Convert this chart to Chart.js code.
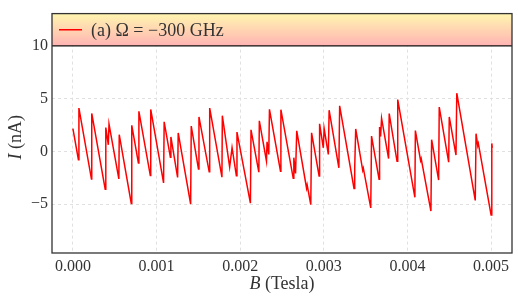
<!DOCTYPE html>
<html>
<head>
<meta charset="utf-8">
<script src="https://cdn.jsdelivr.net/npm/chart.js@4.4.0/dist/chart.umd.min.js"></script>
<style>
  html, body { margin: 0; padding: 0; background: #fff; }
</style>
</head>
<body>
<canvas id="chart" width="518" height="299"></canvas>
<script>
// B field (Tesla) and current (nA)
const bField = [
  0.0000000, 0.0000659, 0.0000719, 0.0002218, 0.0002254, 0.0003861, 0.0003933, 0.0004233,
  0.0004317, 0.0005492, 0.0005540, 0.0006978, 0.0007038, 0.0007830, 0.0007890, 0.0009257,
  0.0009305, 0.0010839, 0.0010911, 0.0011655, 0.0011715, 0.0012518, 0.0012590, 0.0014077,
  0.0014149, 0.0015012, 0.0015072, 0.0016295, 0.0016355, 0.0017818, 0.0017866, 0.0018741,
  0.0019029, 0.0019544, 0.0019616, 0.0021223, 0.0021295, 0.0022230, 0.0022290, 0.0023141,
  0.0023213, 0.0023417, 0.0023501, 0.0024820, 0.0024868, 0.0026343, 0.0026415, 0.0026619,
  0.0026763, 0.0027938, 0.0028010, 0.0028441, 0.0028537, 0.0029436, 0.0029496, 0.0029940,
  0.0030036, 0.0030540, 0.0030635, 0.0031799, 0.0031894, 0.0033609, 0.0033693, 0.0033813,
  0.0034652, 0.0034724, 0.0035612, 0.0035707, 0.0036607, 0.0036667, 0.0036787, 0.0036906,
  0.0037746, 0.0037818, 0.0038753, 0.0038837, 0.0040887, 0.0040947, 0.0041571, 0.0041643,
  0.0042806, 0.0042890, 0.0043729, 0.0043801, 0.0044928, 0.0045000, 0.0045803, 0.0045899,
  0.0048106, 0.0048201, 0.0048405, 0.0048477, 0.0050000, 0.0050084, 0.0050144
];
const current = [
  2.15, -0.80, 4.10, -2.63, 3.60, -3.60, 2.26, 0.62,
  2.58, -2.62, 1.58, -4.95, 2.47, -1.10, 3.80, -2.30,
  3.97, -3.00, 2.80, -0.57, 1.36, -2.48, 1.74, -5.00,
  2.40, -1.67, 3.26, -1.95, 4.10, -2.45, 3.38, -1.50,
  0.35, -2.33, 1.83, -4.92, 2.04, -1.98, 2.90, -0.91,
  0.91, -0.30, 3.98, -1.88, 3.95, -2.56, -0.60, -2.10,
  1.95, -3.50, -3.20, -5.05, 1.76, -2.34, 2.61, 0.33,
  2.17, -0.30, 3.90, -1.57, 4.32, -3.52, -1.60, 2.12,
  -1.80, -1.60, -5.37, 1.45, -2.64, 2.30, 1.40, 3.13,
  -0.69, 3.58, -0.95, 4.91, -4.36, 1.97, -0.88, -0.70,
  -5.67, 1.10, -2.73, 4.20, -1.03, 3.26, -0.36, 5.52,
  -4.66, 1.67, 0.53, 0.75, -6.04, 0.75, 0.32
];
const xTicks = [0, 0.001, 0.002, 0.003, 0.004, 0.005];
const yTicks = [-5, 0, 5, 10];
const seriesLabel = '(a) \u03A9 = \u2212300 GHz';

const serif = "'Liberation Serif', 'DejaVu Serif', serif";
const inkColor = '#333333';

// frame, legend box and axis titles
const decorations = {
  id: 'decorations',
  afterDraw(chart) {
    const { ctx, chartArea: a, scales } = chart;
    const boxBottom = scales.y.getPixelForValue(10);
    ctx.save();

    // legend box with yellow -> pink gradient
    const grad = ctx.createLinearGradient(0, a.top, 0, boxBottom);
    grad.addColorStop(0, '#fff6b0');
    grad.addColorStop(1, '#ffb3b3');
    ctx.fillStyle = grad;
    ctx.fillRect(a.left, a.top, a.right - a.left, boxBottom - a.top);
    ctx.strokeStyle = '#111';
    ctx.lineWidth = 1.3;
    ctx.beginPath();
    ctx.moveTo(a.left, boxBottom);
    ctx.lineTo(a.right, boxBottom);
    ctx.stroke();

    const midY = (a.top + boxBottom) / 2;
    ctx.strokeStyle = '#ff0000';
    ctx.lineWidth = 1.5;
    ctx.beginPath();
    ctx.moveTo(a.left + 7, midY);
    ctx.lineTo(a.left + 30, midY);
    ctx.stroke();
    ctx.fillStyle = inkColor;
    ctx.font = '18px ' + serif;
    ctx.textBaseline = 'middle';
    ctx.textAlign = 'left';
    ctx.fillText(chart.data.datasets[0].label, a.left + 39, midY + 1);

    // frame
    ctx.strokeStyle = inkColor;
    ctx.lineWidth = 1.3;
    ctx.strokeRect(a.left, a.top, a.right - a.left, a.bottom - a.top);

    // x title: italic B + (Tesla)
    ctx.textBaseline = 'middle';
    const xPart1 = 'B', xPart2 = ' (Tesla)';
    ctx.font = 'italic 18px ' + serif;
    const w1 = ctx.measureText(xPart1).width;
    ctx.font = '18px ' + serif;
    const w2 = ctx.measureText(xPart2).width;
    let x0 = (a.left + a.right) / 2 - (w1 + w2) / 2;
    ctx.font = 'italic 18px ' + serif;
    ctx.fillText(xPart1, x0, 284);
    ctx.font = '18px ' + serif;
    ctx.fillText(xPart2, x0 + w1, 284);

    // y title: italic I + (nA), rotated
    ctx.translate(16, (a.top + a.bottom) / 2 + 4);
    ctx.rotate(-Math.PI / 2);
    const yPart1 = 'I', yPart2 = ' (nA)';
    ctx.font = 'italic 18px ' + serif;
    const v1 = ctx.measureText(yPart1).width;
    ctx.font = '18px ' + serif;
    const v2 = ctx.measureText(yPart2).width;
    const y0 = -(v1 + v2) / 2;
    ctx.font = 'italic 18px ' + serif;
    ctx.fillText(yPart1, y0, 0);
    ctx.font = '18px ' + serif;
    ctx.fillText(yPart2, y0 + v1, 0);
    ctx.restore();
  }
};

const ctx = document.getElementById('chart').getContext('2d');
new Chart(ctx, {
  type: 'line',
  data: {
    datasets: [{
      label: seriesLabel,
      data: bField.map((b, i) => ({ x: b, y: current[i] })),
      borderColor: '#ff0000',
      borderWidth: 1.5,
      pointRadius: 0,
      tension: 0,
      fill: false
    }]
  },
  options: {
    responsive: false,
    animation: false,
    layout: { padding: { left: 0, top: 5, right: 6, bottom: 0 } },
    plugins: {
      legend: { display: false },
      tooltip: { enabled: false }
    },
    scales: {
      x: {
        type: 'linear',
        min: -0.00025,
        max: 0.00525,
        afterBuildTicks: axis => { axis.ticks = xTicks.map(v => ({ value: v })); },
        afterFit: axis => { axis.height = 46; },
        border: { display: false, dash: [3, 3] },
        grid: { color: '#e0e0e0', lineWidth: 1, drawTicks: false },
        ticks: {
          color: inkColor,
          font: { family: serif, size: 16 },
          padding: 4,
          maxRotation: 0,
          callback: v => v.toFixed(3)
        }
      },
      y: {
        min: -9.65,
        max: 13.07,
        afterBuildTicks: axis => { axis.ticks = yTicks.map(v => ({ value: v })); },
        afterFit: axis => { axis.width = 52; },
        border: { display: false, dash: [3, 3] },
        grid: { color: '#e0e0e0', lineWidth: 1, drawTicks: false },
        ticks: {
          color: inkColor,
          font: { family: serif, size: 16 },
          padding: 4,
          callback: v => (v < 0 ? '\u2212' + Math.abs(v) : String(v))
        }
      }
    }
  },
  plugins: [decorations]
});
</script>
</body>
</html>
